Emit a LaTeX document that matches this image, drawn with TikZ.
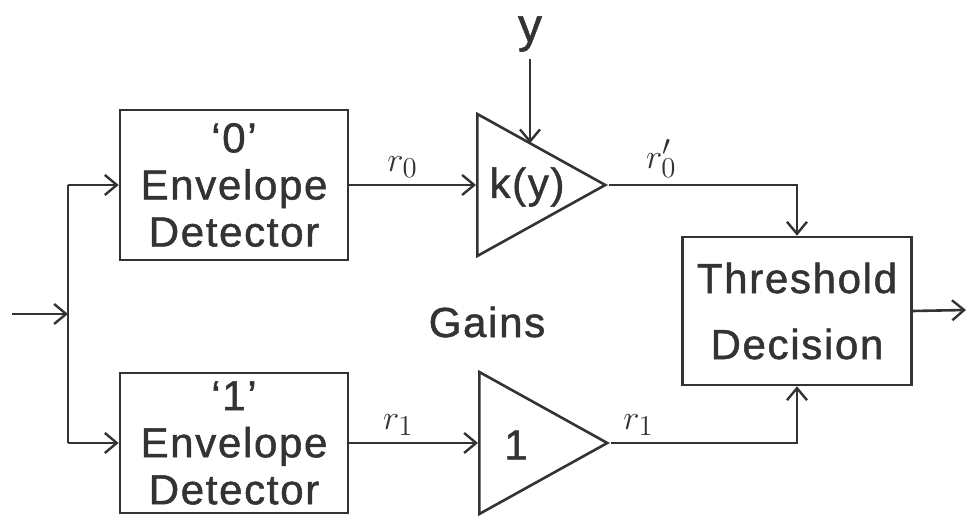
\documentclass[tikz,border=0pt]{standalone}
\usepackage{fontspec}
\setmainfont{Liberation Sans}[FakeBold=1.2]
\usetikzlibrary{arrows.meta,shapes.geometric,calc}
\definecolor{ink}{HTML}{333333}
\begin{document}
\begin{tikzpicture}[x=0.5pt,y=-0.5pt,
  ink/.style={draw=ink,line width=1.3pt},
  conn/.style={ink,-{Straight Barb[length=6pt,width=10pt,line width=1.2pt]}},
  blockbox/.style={ink,rectangle,inner sep=0pt,align=center,text=ink,
     font=\fontsize{21}{23.5}\selectfont\addfontfeatures{LetterSpace=4}},
  amp/.style={ink,isosceles triangle,isosceles triangle stretches=true,
     shape border rotate=0,inner sep=0pt,minimum width=71pt,minimum height=64pt,
     anchor=lower side},
  lbl/.style={text=ink,font=\fontsize{21}{23}\selectfont\addfontfeatures{LetterSpace=4}},
  sig/.style={text=ink,font=\fontsize{19}{20}\selectfont,above=2pt,inner sep=1pt}]
\useasboundingbox (0,0) rectangle (966,517);
% blocks
\node[blockbox,minimum width=114pt,minimum height=75pt] (ed0) at (234,185)
  {\textquoteleft0\textquoteright\\Envelope\\Detector};
\node[blockbox,minimum width=114pt,minimum height=70pt] (ed1) at (234,443)
  {\textquoteleft1\textquoteright\\Envelope\\Detector};
\node[blockbox,minimum width=114.5pt,minimum height=74pt,
  font=\fontsize{21}{33}\selectfont\addfontfeatures{LetterSpace=4}] (th) at (797,311)
  {Threshold\\Decision};
% amplifiers
\node[amp] (k) at (476,185) {};
\node[amp] (g) at (478,443) {};
\node[lbl] (klbl) at (527,187) {k(y)};
\node[lbl] (glbl) at (516,445) {1};
% labels
\node[lbl,font=\fontsize{24}{26}\selectfont] (ylbl) at (530,34) {y};
\node[lbl] (gains) at (487,322) {Gains};
% bus and inputs
\coordinate (in) at (12,314);
\coordinate (bt) at (68,185);
\coordinate (bb) at (68,443);
\coordinate (bm) at (68,314);
\coordinate (out) at (966,310);
\coordinate (kin) at ($(k.apex)!0.57!(k.left corner)$);
\draw[ink] (bt) -- (bb);
\draw[conn] (in) -- (bm);
\draw[conn] (bt) -- (ed0.west);
\draw[conn] (bb) -- (ed1.west);
% signals
\draw[conn] (ed0.east) -- node[sig,pos=0.42] {$r_{0}$} (k.lower side);
\draw[conn] (ed1.east) -- node[sig,pos=0.38] {$r_{1}$} (g.lower side);
\draw[conn] (ylbl.south) -- (ylbl.south |- kin);
\draw[conn] (k.apex) -- node[sig,pos=0.28] {$r_{0}'$} (k.apex -| th.north) -- (th.north);
\draw[conn] (g.apex) -- node[sig,pos=0.15] {$r_{1}$} (g.apex -| th.south) -- (th.south);
\draw[conn] (th.east) -- (out);
\end{tikzpicture}
\end{document}
